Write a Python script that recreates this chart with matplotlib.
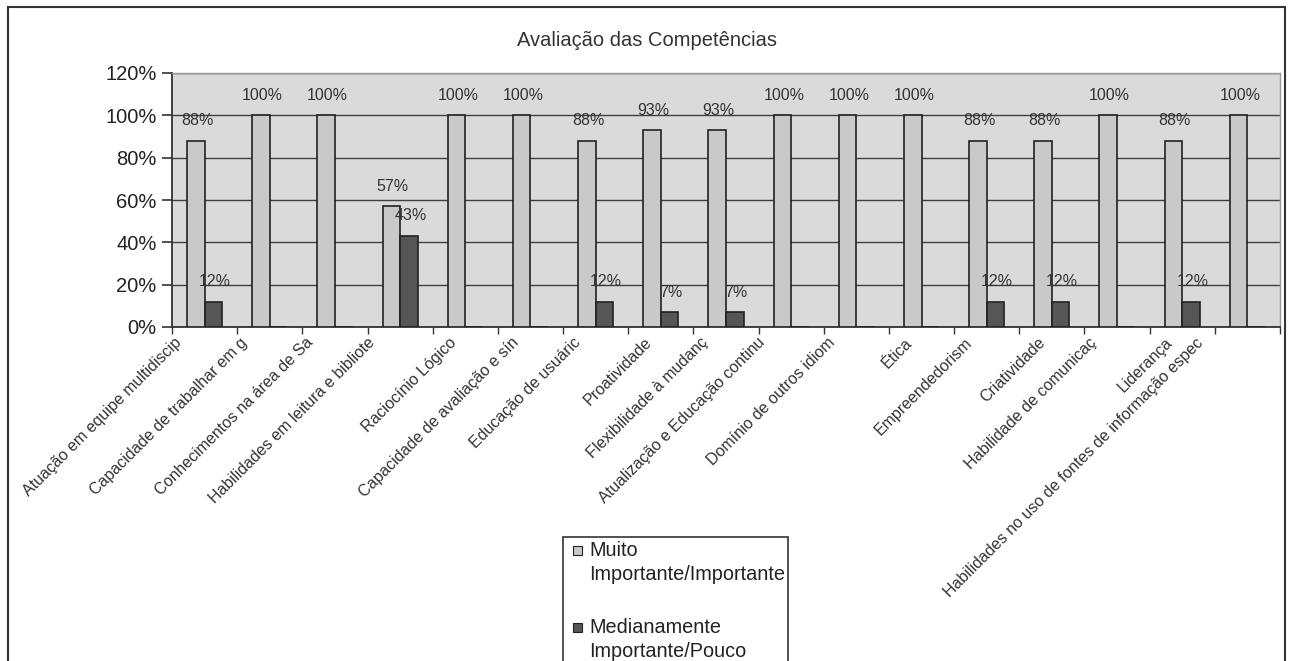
import matplotlib
matplotlib.use("Agg")
import matplotlib.pyplot as plt
from matplotlib.patches import Rectangle
from matplotlib.transforms import blended_transform_factory, ScaledTranslation
import numpy as np

plt.rcParams["font.family"] = ["Liberation Sans", "DejaVu Sans"]

competencias = [
    "Atuação em equipe multidiscip",
    "Capacidade de trabalhar em g",
    "Conhecimentos na área de Sa",
    "Habilidades em leitura e bibliote",
    "Raciocínio Lógico",
    "Capacidade de avaliação e sín",
    "Educação de usuáric",
    "Proatividade",
    "Flexibilidade à mudanç",
    "Atualização e Educação continu",
    "Domínio de outros idiom",
    "Ética",
    "Empreendedorism",
    "Criatividade",
    "Habilidade de comunicaç",
    "Liderança",
    "Habilidades no uso de fontes de informação espec",
]
muito_importante = [88, 100, 100, 57, 100, 100, 88, 93, 93, 100, 100, 100, 88, 88, 100, 88, 100]
medianamente = [12, 0, 0, 43, 0, 0, 12, 7, 7, 0, 0, 0, 12, 12, 0, 12, 0]
serie_labels = ["Muito\nImportante/Importante", "Medianamente\nImportante/Pouco"]
yticks = [0, 20, 40, 60, 80, 100, 120]

# horizontal nudge (px) of each rotated category label, left of its slot centre
label_shift_px = [-23, -23, -22, -25, -9, -12, -15, -9, -18, -27, -22, -10, -15, -7, -21, -10, -44]

W, H = 1290, 661
fig = plt.figure(figsize=(W / 100, H / 100), dpi=100)
fig.patch.set_facecolor("white")

ax = fig.add_axes([172 / W, 1 - 327 / H, (1280 - 172) / W, (327 - 73) / H])
ax.set_facecolor("#dadada")

x = np.arange(len(competencias))
bw = 0.27
light = "#c9c9c9"
dark = "#565656"
b1 = ax.bar(x - bw / 2, muito_importante, bw, color=light, edgecolor="#222222",
            linewidth=1.2, zorder=3)
b2 = ax.bar(x + bw / 2, medianamente, bw, color=dark, edgecolor="#222222",
            linewidth=1.2, zorder=3)

# percentage labels above bars (zero-height bars get none)
for bars, vals in ((b1, muito_importante), (b2, medianamente)):
    for rect, v in zip(bars, vals):
        if v == 0:
            continue
        ax.annotate(f"{v}%", (rect.get_x() + rect.get_width() / 2, v),
                    xytext=(1, 9), textcoords="offset points",
                    ha="center", va="bottom", fontsize=11.5, color="#333333",
                    zorder=4)

ax.set_xlim(-0.5, len(competencias) - 0.5)
ax.set_ylim(0, 120)
ax.set_yticks(yticks)
ax.set_yticklabels([f"{v}%" for v in yticks], fontsize=14.5, color="#222222")
ax.yaxis.grid(True, color="#404040", linewidth=1.0, zorder=1)
ax.tick_params(axis="y", length=7, width=1.2, color="#333333", pad=4)

# ticks between categories, labels rotated under each category
ax.set_xticks(np.arange(-0.5, len(competencias)))
ax.set_xticklabels([])
ax.tick_params(axis="x", length=5, width=1.0, color="#333333")

base_tr = blended_transform_factory(ax.transData, ax.transAxes)
for xi, name, dx in zip(x, competencias, label_shift_px):
    tr = base_tr + ScaledTranslation((dx - 7.5) / 100, -0.08, fig.dpi_scale_trans)
    ax.text(xi, 0, name, transform=tr, rotation=45, rotation_mode="anchor",
            ha="right", va="top", fontsize=11.5, color="#333333")

for side in ("left", "bottom"):
    ax.spines[side].set_color("#333333")
    ax.spines[side].set_linewidth(1.3)
for side in ("top", "right"):
    ax.spines[side].set_color("#9a9a9a")
    ax.spines[side].set_linewidth(1.0)

fig.text(647 / W, 1 - 40 / H, "Avaliação das Competências", ha="center",
         va="center", fontsize=14.5, color="#333333")

# outer chart frame
fig.add_artist(Rectangle((8 / W, -0.1), (1285 - 8) / W, 1.1 - 7 / H,
                         transform=fig.transFigure, fill=False,
                         edgecolor="#333333", linewidth=1.5))

# legend box, running off the bottom edge
fig.add_artist(Rectangle((563 / W, -0.1), (788 - 563) / W, 0.1 + 1 - 537 / H,
                         transform=fig.transFigure, facecolor="white",
                         edgecolor="#333333", linewidth=1.2))
for (ty, col, lab) in ((550, light, serie_labels[0]), (627, dark, serie_labels[1])):
    fig.add_artist(Rectangle((573 / W, 1 - (ty + 5) / H), 9 / W, 9 / H,
                             transform=fig.transFigure, facecolor=col,
                             edgecolor="#222222", linewidth=0.8))
    fig.text(589 / W, 1 - (ty - 9) / H, lab, ha="left", va="top",
             fontsize=14.3, color="#222222", linespacing=1.35)

fig.savefig("out.png", dpi=100)
